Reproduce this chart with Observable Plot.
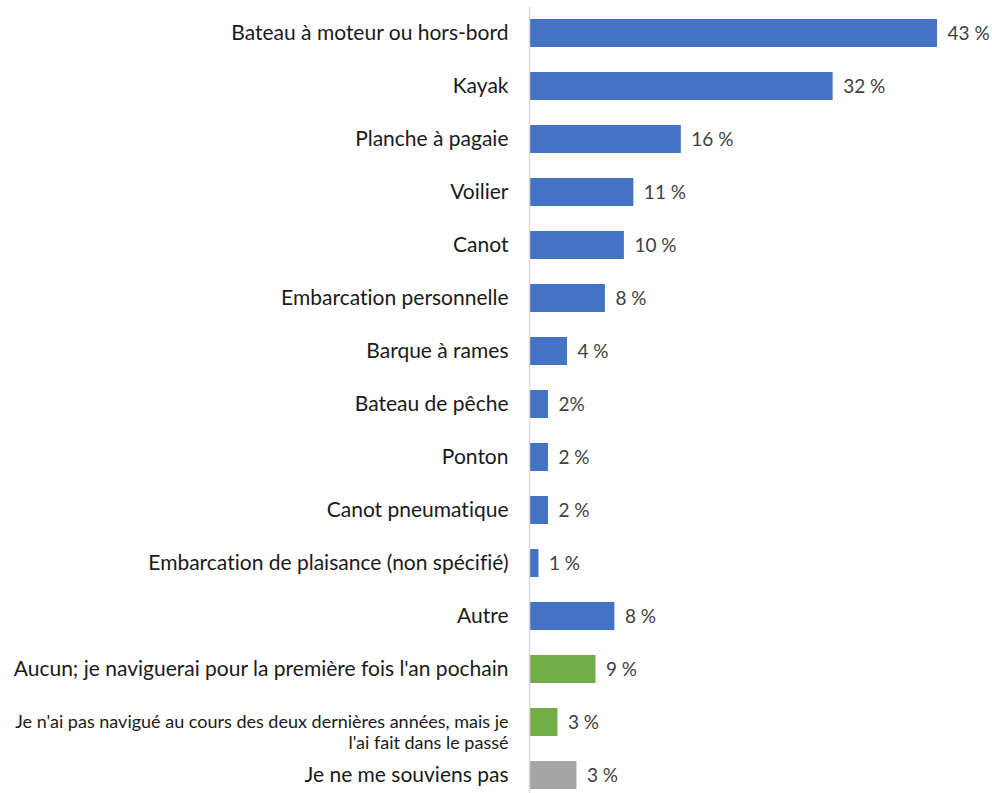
<!DOCTYPE html>
<html>
<head>
<meta charset="utf-8">
<script src="https://cdn.jsdelivr.net/npm/d3@7"></script>
<script src="https://cdn.jsdelivr.net/npm/@observablehq/plot@0.6"></script>
<style>
  html, body { margin: 0; padding: 0; background: #fff; }
  #chart svg { display: block; font-variant-ligatures: none; font-feature-settings: "liga" 0, "dlig" 0; }
  #chart svg text { font-variant-ligatures: none; font-feature-settings: "liga" 0, "dlig" 0; }
</style>
</head>
<body>
<div id="chart"></div>
<script>
const categories = [
  "Bateau à moteur ou hors-bord",
  "Kayak",
  "Planche à pagaie",
  "Voilier",
  "Canot",
  "Embarcation personnelle",
  "Barque à rames",
  "Bateau de pêche",
  "Ponton",
  "Canot pneumatique",
  "Embarcation de plaisance (non spécifié)",
  "Autre",
  "Aucun; je naviguerai pour la première fois l'an pochain",
  "Je n'ai pas navigué au cours des deux dernières années, mais je\nl'ai fait dans le passé",
  "Je ne me souviens pas"
];
// bar lengths as drawn in the reference
const values = [43, 32, 16, 11, 10, 8, 4, 2, 2, 2, 1, 9, 7, 3, 5];
// labels as printed in the reference
const valueLabels = ["43 %", "32 %", "16 %", "11 %", "10 %", "8 %", "4 %", "2%", "2 %", "2 %", "1 %", "8 %", "9 %", "3 %", "3 %"];
const groups = ["type", "type", "type", "type", "type", "type", "type", "type", "type", "type", "type", "type", "none", "none", "unknown"];
const groupColors = { type: "#4472C4", none: "#70AD47", unknown: "#A5A5A5" };

const data = categories.map((c, i) => ({
  cat: c, value: values[i], label: valueLabels[i], group: groups[i], multi: c.includes("\n")
}));

const font = "Lato, 'Noto Sans', sans-serif";

const chart = Plot.plot({
  width: 992,
  height: 793,
  marginLeft: 529,
  marginRight: 55,
  marginTop: 7,
  marginBottom: 0,
  style: { fontFamily: font, background: "#fff" },
  x: { domain: [0, 43], axis: null },
  y: { domain: categories, range: [6.5, 801.5], paddingInner: 0.47, paddingOuter: 0.235, axis: null },
  marks: [
    Plot.barX(data, {
      x: "value", y: "cat",
      fill: d => groupColors[d.group]
    }),
    Plot.ruleX([0], { stroke: "#d9d9d9", strokeWidth: 1.5 }),
    Plot.text(data, {
      x: "value", y: "cat", text: "label",
      textAnchor: "start", dx: 10, fontSize: 19, fill: "#404040"
    }),
    Plot.text(data.filter(d => !d.multi), {
      x: 0, y: "cat", text: "cat",
      textAnchor: "end", dx: -21, fontSize: 21, fill: "#1a1a1a"
    }),
    Plot.text(data.filter(d => d.multi), {
      x: 0, y: "cat", text: "cat",
      textAnchor: "end", dx: -21, dy: 9, fontSize: 18, lineHeight: 1.18, fill: "#1a1a1a"
    })
  ]
});
document.getElementById("chart").appendChild(chart);
</script>
</body>
</html>
